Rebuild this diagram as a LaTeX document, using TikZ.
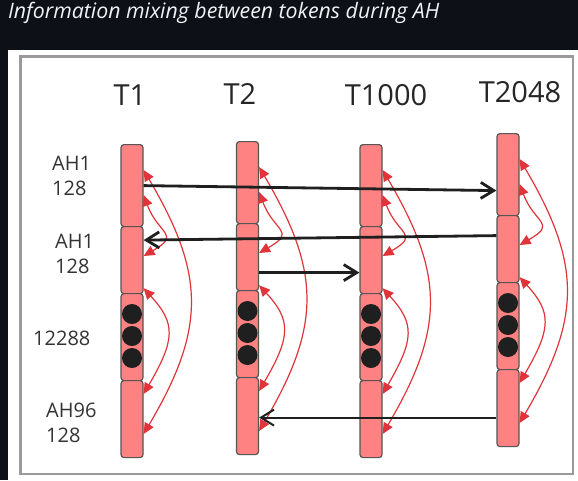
\documentclass[tikz,border=0pt]{standalone}
\usepackage{fontspec}
\setmainfont{Open Sans}
\usepackage{xcolor}
\usetikzlibrary{arrows.meta}
\definecolor{pagebg}{HTML}{0D1117}
\definecolor{titlecol}{HTML}{F0F3F6}
\definecolor{segfill}{HTML}{FF8282}
\definecolor{segline}{HTML}{555555}
\definecolor{mixred}{HTML}{E0343A}
\definecolor{framecol}{HTML}{9A9A9A}

\begin{document}
\begin{tikzpicture}[x=1pt,y=-1pt,
  seg/.style={draw=segline,fill=segfill,line width=1.2pt,rounded corners=3pt,minimum width=22pt,inner sep=0pt,anchor=north},
  dot/.style={circle,fill=black!88,minimum size=20pt,inner sep=0pt},
  ptr/.style={->,>={Straight Barb[length=13pt,width=16pt]},line width=2.8pt,draw=black!88},
  mix/.style={<->,>={Triangle[length=11pt,width=10pt]},line width=1.2pt,draw=mixred},
  tok/.style={font=\fontsize{29}{29}\selectfont,text=black!85,anchor=base},
  lbl/.style={font=\fontsize{20}{25}\selectfont,text=black!80,align=left,anchor=north west,inner sep=0pt}
]
\useasboundingbox (0,0) rectangle (578,480);
\fill[pagebg] (0,0) rectangle (578,480);
\fill[white] (8,50) rectangle (578,480);
\draw[framecol,line width=2.5pt] (20.5,56.5) rectangle (573,474);
\node[anchor=base west,inner sep=0pt,text=titlecol,font=\fontsize{21.3}{24}\selectfont\itshape] (title) at (8,18) {Information mixing between tokens during AH};
% Tokens
\node[tok] (n1) at (130,105) {T1};
\node[tok] (n2) at (240,104) {T2};
\node[tok] (n3) at (386,105) {T1000};
\node[tok] (n4) at (520,102) {T2048};
% Row labels
\node[lbl] (ah1a) at (52,156) {AH1\\128};
\node[lbl] (ah1b) at (55,234) {AH1\\128};
\node[lbl] (dim) at (33,331) {12288};
\node[lbl] (ah96) at (46,403) {AH96\\128};
% T1
\node[seg,minimum height=82pt] (t1a) at (132,144) {};
\node[seg,minimum height=67pt] (t1b) at (132,226) {};
\node[seg,minimum height=87pt] (t1c) at (132,293) {};
\node[seg,minimum height=77pt] (t1d) at (132,380) {};
% T2
\node[seg,minimum height=82pt] (t2a) at (247.5,141) {};
\node[seg,minimum height=67pt] (t2b) at (247.5,223) {};
\node[seg,minimum height=87pt] (t2c) at (247.5,290) {};
\node[seg,minimum height=77pt] (t2d) at (247.5,377) {};
% T1000
\node[seg,minimum height=82pt] (t3a) at (371,144) {};
\node[seg,minimum height=67pt] (t3b) at (371,226) {};
\node[seg,minimum height=87pt] (t3c) at (371,293) {};
\node[seg,minimum height=77pt] (t3d) at (371,380) {};
% T2048
\node[seg,minimum height=82pt] (t4a) at (508,133) {};
\node[seg,minimum height=67pt] (t4b) at (508,215) {};
\node[seg,minimum height=87pt] (t4c) at (508,282) {};
\node[seg,minimum height=77pt] (t4d) at (508,369) {};
% Dots
\node[dot] (t1c1) at (132,314) {}; \node[dot] (t1c2) at (132,336) {}; \node[dot] (t1c3) at (132,358) {};
\node[dot] (t2c1) at (247.5,311) {}; \node[dot] (t2c2) at (247.5,333) {}; \node[dot] (t2c3) at (247.5,355) {};
\node[dot] (t3c1) at (371,314) {}; \node[dot] (t3c2) at (371,336) {}; \node[dot] (t3c3) at (371,358) {};
\node[dot] (t4c1) at (508,303) {}; \node[dot] (t4c2) at (508,325) {}; \node[dot] (t4c3) at (508,347) {};
% Mixing inside each token
\draw[mix] ([yshift=-26pt]t1a.north east) .. controls +(62,105) and +(62,-105) .. ([yshift=-54pt]t1d.north east);
\draw[mix] ([yshift=-51pt]t1a.north east) .. controls +(15,40) and +(38,-22) .. ([yshift=-30pt]t1b.north east);
\draw[mix] ([yshift=6pt]t1b.south east) .. controls +(32,35) and +(32,-55) .. ([yshift=-14pt]t1d.north east);
\draw[mix] ([yshift=-26pt]t2a.north east) .. controls +(62,105) and +(62,-105) .. ([yshift=-54pt]t2d.north east);
\draw[mix] ([yshift=-51pt]t2a.north east) .. controls +(15,40) and +(38,-22) .. ([yshift=-30pt]t2b.north east);
\draw[mix] ([yshift=6pt]t2b.south east) .. controls +(32,35) and +(32,-55) .. ([yshift=-14pt]t2d.north east);
\draw[mix] ([yshift=-26pt]t3a.north east) .. controls +(62,105) and +(62,-105) .. ([yshift=-54pt]t3d.north east);
\draw[mix] ([yshift=-51pt]t3a.north east) .. controls +(15,40) and +(38,-22) .. ([yshift=-30pt]t3b.north east);
\draw[mix] ([yshift=6pt]t3b.south east) .. controls +(32,35) and +(32,-55) .. ([yshift=-14pt]t3d.north east);
\draw[mix] ([yshift=-26pt]t4a.north east) .. controls +(62,105) and +(62,-105) .. ([yshift=-54pt]t4d.north east);
\draw[mix] ([yshift=-51pt]t4a.north east) .. controls +(15,40) and +(38,-22) .. ([yshift=-30pt]t4b.north east);
\draw[mix] ([yshift=6pt]t4b.south east) .. controls +(32,35) and +(32,-55) .. ([yshift=-14pt]t4d.north east);
% Between tokens
\draw[ptr] (t1a.east) -- ([yshift=-16pt]t4a.west);
\draw[ptr] ([yshift=13.5pt]t4b.west) -- ([yshift=20pt]t1b.east);
\draw[ptr] ([yshift=-15.5pt]t2b.east) -- ([yshift=-12.5pt]t3b.west);
\draw[ptr,line width=2pt] ([yshift=-9.5pt]t4d.west) -- ([yshift=-1.5pt]t2d.east);
\end{tikzpicture}
\end{document}
